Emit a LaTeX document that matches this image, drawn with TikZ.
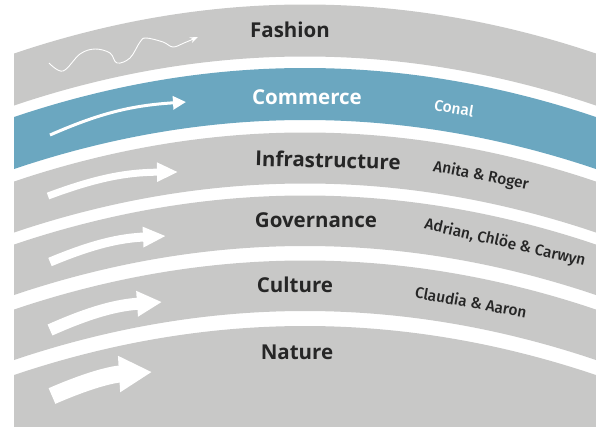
\documentclass[tikz,border=0pt]{standalone}
\usepackage{fontspec}
\setmainfont{Open Sans}
\newfontfamily\namefont{Fira Sans Medium}
\usetikzlibrary{arrows.meta}
\definecolor{layergray}{HTML}{C8C8C7}
\definecolor{layerblue}{HTML}{6BA7C0}
\definecolor{inkdark}{HTML}{262626}

\begin{document}
\begin{tikzpicture}[x=1pt,y=-1pt,
		declare function={sag(\t)=49*((\t-305)/291)^2;},
		layer/.style={font=\bfseries\fontsize{20.5}{23}\selectfont,text=inkdark},
		who/.style={font=\namefont\fontsize{15.5}{18}\selectfont,text=inkdark,inner sep=1pt},
		flow/.style={white,line cap=butt},
		]
		\useasboundingbox (0,0) rectangle (596,426);
		\begin{scope}
		\clip (14,0) rectangle (596,426);
		\foreach \up/\down/\col in {4.5/56.5/layergray, 68/120/layerblue,
			132.5/183.5/layergray, 195.5/246/layergray,
			260.5/311/layergray, 326/520/layergray}
		{
			\fill[\col] plot[domain=14:596,samples=50,smooth] (\x,{\up+sag(\x)})
			-- plot[domain=596:14,samples=50,smooth] (\x,{\down+sag(\x)}) -- cycle;
		}
		\end{scope}
		% the flows
		\coordinate (fa-s) at (49,63);
		\coordinate (fa-e) at (198,37);
		\draw[flow,line width=0.9pt,-{Stealth[length=8pt,width=6pt]}]
		plot[smooth,tension=0.6] coordinates {(fa-s) (63,71) (80,54) (95,49) (110,53)
			(117,63) (130,58) (140,42) (146,38) (163,42) (173,47) (184,43) (fa-e)};
		\coordinate (co-s) at (50,135);
		\coordinate (co-e) at (186,102);
		\draw[flow,line width=3pt,-{Triangle[length=13pt,width=13pt]}] (co-s) to[bend left=10] (co-e);
		\coordinate (in-s) at (48,196);
		\coordinate (in-e) at (178,172);
		\draw[flow,line width=7pt,-{Triangle[length=21pt,width=18pt]}] (in-s) to[bend left=10] (in-e);
		\coordinate (go-s) at (50,262);
		\coordinate (go-e) at (166,236);
		\draw[flow,line width=9pt,-{Triangle[length=23pt,width=19pt]}] (go-s) to[bend left=10] (go-e);
		\coordinate (cu-s) at (50,330);
		\coordinate (cu-e) at (162,302);
		\draw[flow,line width=12pt,-{Triangle[length=25pt,width=24pt]}] (cu-s) to[bend left=10] (cu-e);
		\coordinate (na-s) at (52,396);
		\coordinate (na-e) at (152,372);
		\draw[flow,line width=17pt,-{Triangle[length=33pt,width=34pt]}] (na-s) to[bend left=10] (na-e);
		% layer names
		\node[layer] (fashion) at (290,30) {Fashion};
		\node[layer,text=white] (commerce) at (307,97) {Commerce};
		\node[layer,rotate=-1.5] (infra) at (328,160) {Infrastructure};
		\node[layer] (gov) at (316,220) {Governance};
		\node[layer] (culture) at (295,285) {Culture};
		\node[layer] (nature) at (297,352) {Nature};
		% who looks after which layer
		\node[who,text=white,rotate=-9.5] (conal) at (454,108) {Conal};
		\node[who,rotate=-11] (anita) at (481,176) {Anita \& Roger};
		\node[who,rotate=-13] (adrian) at (505,243) {Adrian, Chlöe \& Carwyn};
		\node[who,rotate=-10.5] (claudia) at (471,302) {Claudia \& Aaron};
\end{tikzpicture}
\end{document}
